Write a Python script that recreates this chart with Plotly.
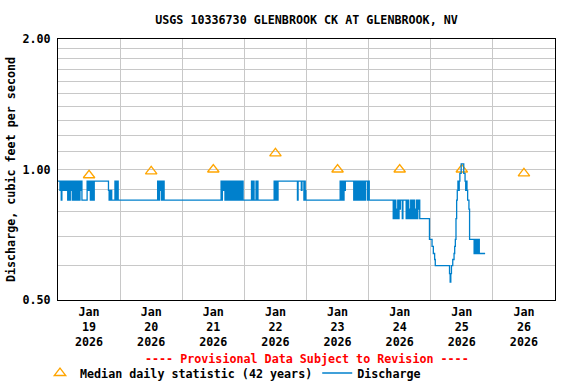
import math
import pandas as pd
import plotly.graph_objects as go

# ---- Data ----
# Discharge change points: hours after 2026-01-19 00:00, value (ft3/s) held until next change
q_hours = [
    0.0, 0.75, 1.0, 1.25, 1.5, 1.75, 2.0, 2.25, 2.5, 2.75, 3.0, 3.25, 3.5, 3.75, 4.0, 4.25,
    4.5, 4.75, 5.0, 5.25, 5.5, 5.75, 6.0, 6.25, 6.5, 6.75, 7.0, 7.5, 7.75, 8.25, 8.5, 8.75,
    9.0, 9.25, 11.25, 11.5, 11.75, 12.0, 12.25, 12.5, 12.75, 13.25, 13.5, 13.75, 14.0,
    19.5, 19.75, 20.0, 20.25, 20.5, 20.75, 22.0, 22.25, 22.5, 22.75, 23.0, 23.25,
    38.5, 39.0, 39.25, 39.5, 39.75, 40.0, 40.25, 40.5, 40.75, 41.0,
    63.0, 63.25, 63.5, 63.75, 64.0, 64.5, 64.75, 65.0, 65.25, 65.75, 66.0, 66.25, 66.5,
    66.75, 67.0, 67.25, 67.5, 68.0, 68.25, 68.5, 68.75, 69.25, 69.5, 70.0, 70.25, 70.75,
    71.0, 71.5, 74.75, 75.0, 75.5, 75.75, 76.5, 76.75, 77.0, 77.25, 83.5, 83.75, 84.0,
    84.25, 84.5, 84.75, 85.0,
    92.5, 92.75, 94.0, 94.25, 95.0, 95.25, 95.5, 95.75,
    109.0, 109.25, 109.75, 110.0, 110.5, 110.75, 111.0, 114.25, 114.5, 114.75, 115.0,
    115.5, 115.75, 116.0, 116.25, 116.5, 116.75, 117.0, 117.25, 117.75, 118.0, 118.5,
    118.75, 119.5, 119.75, 120.25,
    129.5, 129.75, 130.0, 130.25, 130.5, 130.75, 131.0, 131.25, 131.5, 131.75, 132.0,
    132.25, 133.0, 133.25, 134.5, 134.75, 135.0, 135.25, 135.5, 135.75, 136.0, 136.25,
    136.5, 136.75, 137.25, 137.5, 137.75, 138.0, 138.25, 138.5, 138.75, 139.0, 139.25,
    139.5, 139.75, 143.5, 144.5, 145.0, 145.5, 145.75,
    151.25, 151.5, 151.75, 152.0, 152.5, 153.0, 153.25, 153.5, 153.75, 154.0, 154.25,
    154.5, 154.75, 155.0, 155.25, 155.75, 156.75, 157.25, 157.5, 157.75, 158.0, 158.25,
    158.75, 159.0, 160.75, 161.0, 161.25, 161.5, 161.75, 162.0, 162.25, 162.5, 162.75,
    165.0,
]
q_values = [
    0.94, 0.895, 0.94, 0.85, 0.94, 0.895, 0.94, 0.895, 0.94, 0.895, 0.94, 0.895, 0.94, 0.85, 0.94, 0.895,
    0.85, 0.94, 0.895, 0.94, 0.85, 0.94, 0.895, 0.85, 0.94, 0.85, 0.94, 0.85, 0.94, 0.85, 0.94, 0.895,
    0.94, 0.85, 0.94, 0.895, 0.94, 0.895, 0.94, 0.85, 0.94, 0.85, 0.94, 0.85, 0.94,
    0.895, 0.85, 0.895, 0.85, 0.895, 0.85, 0.94, 0.85, 0.94, 0.85, 0.94, 0.85,
    0.94, 0.85, 0.94, 0.895, 0.94, 0.85, 0.94, 0.85, 0.94, 0.85,
    0.94, 0.85, 0.94, 0.895, 0.94, 0.85, 0.94, 0.85, 0.94, 0.85, 0.94, 0.85, 0.94,
    0.85, 0.94, 0.85, 0.94, 0.85, 0.94, 0.85, 0.94, 0.85, 0.94, 0.85, 0.94, 0.85,
    0.94, 0.85, 0.94, 0.85, 0.94, 0.85, 0.94, 0.85, 0.94, 0.85, 0.94, 0.85, 0.94,
    0.85, 0.94, 0.85, 0.94,
    0.85, 0.94, 0.895, 0.94, 0.85, 0.94, 0.895, 0.85,
    0.94, 0.85, 0.94, 0.85, 0.94, 0.895, 0.94, 0.85, 0.94, 0.85, 0.94,
    0.85, 0.94, 0.85, 0.94, 0.85, 0.94, 0.85, 0.94, 0.85, 0.94, 0.85,
    0.94, 0.85, 0.94, 0.85,
    0.77, 0.85, 0.77, 0.85, 0.77, 0.81, 0.77, 0.85, 0.77, 0.85, 0.81,
    0.85, 0.77, 0.85, 0.77, 0.85, 0.77, 0.85, 0.77, 0.81, 0.77, 0.85,
    0.77, 0.85, 0.77, 0.85, 0.77, 0.81, 0.77, 0.85, 0.77, 0.85, 0.81,
    0.85, 0.77, 0.69, 0.665, 0.64, 0.62, 0.60,
    0.575, 0.55, 0.575, 0.60, 0.62, 0.64, 0.665, 0.69, 0.77, 0.85, 0.895,
    0.94, 0.895, 0.94, 0.98, 1.03, 0.98, 0.94, 0.895, 0.94, 0.895, 0.85,
    0.81, 0.69, 0.64, 0.69, 0.64, 0.69, 0.64, 0.69, 0.64, 0.69, 0.64,
    0.64,
]

# Median daily statistic (42 years), plotted at noon of each day
median_days = ["2026-01-19 12:00", "2026-01-20 12:00", "2026-01-21 12:00", "2026-01-22 12:00",
               "2026-01-23 12:00", "2026-01-24 12:00", "2026-01-25 12:00", "2026-01-26 12:00"]
median_values = [0.97, 0.99, 1.00, 1.09, 1.00, 1.00, 1.00, 0.98]

y_grid_vals = [0.5, 0.6, 0.7, 0.8, 0.9, 1.0, 1.1, 1.2, 1.3, 1.4, 1.5, 1.6, 1.7, 1.8, 1.9, 2.0]
y_grid_text = ["0.50", "", "", "", "", "1.00", "", "", "", "", "", "", "", "", "", "2.00"]

start = pd.Timestamp("2026-01-19 00:00")
q_times = [start + pd.Timedelta(hours=h) for h in q_hours]

FONT = "DejaVu Sans Mono"
GRID = "#c8c8c8"
W, H = 576, 384
PLOT_LEFT, PLOT_RIGHT = 58, 555
PLOT_TOP, PLOT_BOTTOM = 39, 300
PW, PH = PLOT_RIGHT - PLOT_LEFT, PLOT_BOTTOM - PLOT_TOP

fig = go.Figure()
fig.add_trace(go.Scatter(
    x=pd.to_datetime(median_days), y=median_values, mode="markers",
    name="Median daily statistic (42 years)",
    marker=dict(symbol="triangle-up-open", size=10, color="#FFA500", line=dict(width=1.3, color="#FFA500")),
))
fig.add_trace(go.Scatter(
    x=q_times, y=q_values, mode="lines", line_shape="hv",
    name="Discharge", line=dict(color="#0080cc", width=1.3),
))

fig.update_layout(
    width=W, height=H,
    margin=dict(l=PLOT_LEFT, r=W - PLOT_RIGHT, t=PLOT_TOP, b=H - PLOT_BOTTOM, autoexpand=False),
    paper_bgcolor="white", plot_bgcolor="white",
    font=dict(family=FONT, size=11.7, color="black", weight="bold"),
    title=dict(text="USGS 10336730 GLENBROOK CK AT GLENBROOK, NV",
               x=0.5, xref="paper", xanchor="center",
               y=1 - 20 / H, yref="container", yanchor="middle",
               font=dict(family=FONT, size=11.7, color="black", weight="bold")),
    showlegend=True,
    legend=dict(orientation="h", x=(40 - PLOT_LEFT) / PW, xanchor="left",
                y=(PLOT_BOTTOM - 373) / PH, yref="paper", yanchor="middle",
                bgcolor="rgba(0,0,0,0)", font=dict(family=FONT, size=11.7, weight="bold"),
                itemwidth=30, tracegroupgap=0),
    annotations=[dict(text="---- Provisional Data Subject to Revision ----",
                      x=0.5, xref="paper",
                      y=(PLOT_BOTTOM - 359) / PH, yref="paper",
                      xanchor="center", yanchor="middle", showarrow=False,
                      font=dict(family=FONT, size=11.7, color="red", weight="bold"))],
)

fig.update_xaxes(
    type="date", range=["2026-01-19 00:00", "2026-01-27 00:00"],
    tick0="2026-01-19", dtick=86400000, tickformat="%b<br>%d<br>%Y",
    ticklabelmode="period", ticks="", ticklabelstandoff=1,
    showgrid=True, gridcolor=GRID, gridwidth=1,
    showline=True, linecolor="black", linewidth=1, mirror=True,
    zeroline=False, automargin=False,
)
fig.update_yaxes(
    type="log", range=[math.log10(0.5), math.log10(2.0)],
    tickmode="array", tickvals=y_grid_vals, ticktext=y_grid_text, ticks="",
    ticklabelstandoff=4,
    showgrid=True, gridcolor=GRID, gridwidth=1,
    showline=True, linecolor="black", linewidth=1, mirror=True,
    zeroline=False, automargin=False,
    title=dict(text="Discharge, cubic feet per second", standoff=4,
               font=dict(family=FONT, size=11.7, weight="bold")),
)

fig.write_html("out.html", config={"displayModeBar": False},
               post_script="document.body.style.margin='0';")
